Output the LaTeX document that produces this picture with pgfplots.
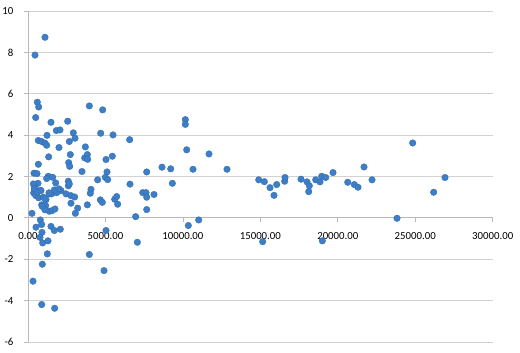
\documentclass[border=0pt]{standalone}
\usepackage{fontspec}
\setmainfont{Carlito}
\usepackage{pgfplots}
\pgfplotsset{compat=1.18}
\definecolor{mk}{RGB}{60,126,200}
\definecolor{gridc}{RGB}{210,210,210}
\definecolor{axc}{RGB}{185,185,185}
\begin{document}
\begin{tikzpicture}
\path[use as bounding box] (-28pt,-11pt) rectangle (492pt,342pt);
\begin{axis}[
  scale only axis,
  width=464.7pt, height=331pt,
  xmin=0, xmax=30000, ymin=-6, ymax=10,
  axis x line=middle, axis y line=left,
  axis line style={-, draw=axc, line width=0.8pt},
  hide obscured x ticks=false, hide obscured y ticks=false,
  xtick={0,5000,10000,15000,20000,25000,30000},
  xticklabels={0.00,5000.00,10000.00,15000.00,20000.00,25000.00,30000.00},
  ytick={-6,-4,-2,0,2,4,6,8,10},
  yticklabels={{-6},{-4},{-2},{0},{2},{4},{6},{8},{10}},
  ymajorgrids,
  grid style={draw=gridc, line width=0.8pt},
  tick align=outside,
  major tick length=4pt,
  tick style={draw=axc, line width=0.8pt},
  xticklabel style={anchor=north, inner sep=0pt, yshift=-10.5pt, font=\fontsize{10.8}{12}\selectfont},
  yticklabel style={anchor=east, inner sep=0pt, xshift=-10.5pt, font=\fontsize{10.8}{12}\selectfont},
  scaled x ticks=false,
  clip=false,
]
\addplot[only marks, mark=*, mark size=3.3pt, mark options={fill=mk, draw=mk!85!black, line width=0.3pt}] coordinates {
(452,7.87) (1098,8.73) (603,5.59) (689,5.36) (495,4.85) (1485,4.62) (2561,4.67)
(3960,5.41) (4820,5.22) (1830,4.22) (2066,4.25) (667,3.74) (883,3.69) (1098,3.61)
(1205,3.51) (1227,3.99) (2001,3.40) (2926,4.11) (3034,3.85) (2668,3.69) (3701,3.43)
(4691,4.09) (5488,4.01) (6563,3.78) (1334,2.95) (2733,3.06) (3659,2.90) (3831,3.06)
(3853,2.83) (5445,2.98) (5036,2.82) (667,2.59) (2625,2.67) (2690,2.49) (3486,2.24)
(5100,2.22) (7663,2.22) (8651,2.45) (9213,2.37) (387,2.16) (581,2.14) (1312,2.01)
(1592,1.96) (1205,1.90) (2604,1.77) (1786,1.69) (430,1.58) (645,1.67) (430,1.43)
(624,1.29) (366,1.21) (796,1.33) (2604,1.55) (2668,1.64) (2130,1.32) (1377,1.16)
(1528,1.16) (1851,1.22) (2453,1.16) (2754,1.08) (3012,1.01) (495,1.08) (689,0.97)
(990,1.00) (1162,0.88) (883,0.63) (1141,0.59) (1377,0.32) (1549,0.35) (1743,0.43)
(2776,0.71) (3207,0.47) (3056,0.22) (258,0.22) (3831,0.63) (4067,1.38) (4024,1.19)
(4497,1.84) (4670,0.87) (4799,0.75) (4993,1.96) (5143,1.85) (5596,0.90) (5725,1.03)
(5789,0.66) (6585,1.63) (6950,0.06) (7405,1.22) (7618,1.22) (7663,1.00) (7663,0.40)
(8135,1.13) (9320,1.67)
(344,1.64) (409,1.40) (602,1.24) (839,1.32) (1098,0.92) (925,0.55) (1098,0.39)
(1356,1.21) (1700,1.35) (2001,1.40)
(796,-0.10) (883,-0.32) (516,-0.45) (904,-0.70) (1485,-0.41) (1700,-0.61) (2087,-0.55)
(775,-0.94) (947,-1.21) (1291,-1.11) (5036,-0.61) (7060,-1.18) (1248,-1.74) (3960,-1.77)
(926,-2.24) (4907,-2.55) (323,-3.06) (883,-4.19) (1721,-4.37)
(10157,4.75) (10157,4.52) (10245,3.29) (11686,3.09) (10652,2.35) (12847,2.35)
(14895,1.84) (15257,1.75) (15624,1.46) (15882,1.09) (16055,1.61) (16571,1.77)
(16592,1.95) (17625,1.87) (18012,1.74) (18163,1.55) (18120,1.27) (18572,1.84)
(18852,1.74) (18959,2.01) (19218,1.95) (19691,2.19) (20640,1.72)
(10351,-0.37) (11019,-0.10) (15150,-1.15) (19002,-1.11)
(21066,1.61) (21306,1.48) (21693,2.46) (22210,1.84) (24835,3.62) (23823,-0.02)
(26189,1.24) (26920,1.95)
};
\end{axis}
\end{tikzpicture}
\end{document}
